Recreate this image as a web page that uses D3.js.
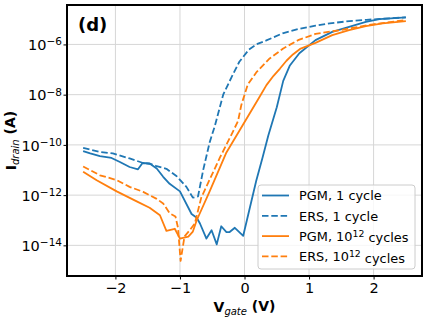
<!DOCTYPE html>
<html>
<head>
<meta charset="utf-8">
<script src="https://cdn.jsdelivr.net/npm/d3@7"></script>
<style>
  body { margin: 0; background: #fff; }
  svg { display: block; font-family: "DejaVu Sans", sans-serif; }
</style>
</head>
<body>
<div id="chart"></div>
<script>
// values: gate voltage (V) and log10 of drain current (A)
const pgm1V = [-2.5, -2.39, -2.24, -2.06, -1.93, -1.78, -1.65, -1.58, -1.47, -1.36, -1.26, -1.16, -1.0, -0.82, -0.74, -0.69, -0.59, -0.51, -0.43, -0.36, -0.28, -0.23, -0.15, -0.02, 0.07, 0.18, 0.28, 0.37, 0.5, 0.6, 0.7, 0.85, 1.1, 1.36, 1.62, 1.88, 2.09, 2.5];
const pgm1Log = [-10.25, -10.34, -10.45, -10.52, -10.68, -10.88, -10.97, -10.72, -10.74, -10.94, -11.27, -11.55, -11.85, -12.75, -12.9, -13.13, -13.73, -13.4, -13.96, -13.24, -13.47, -13.47, -13.3, -13.62, -12.64, -11.45, -10.5, -9.62, -8.5, -7.45, -6.85, -6.35, -5.83, -5.5, -5.3, -5.1, -4.99, -4.92];

const ers1V = [-2.5, -2.24, -2.04, -1.78, -1.57, -1.45, -1.36, -1.21, -1.05, -0.9, -0.8, -0.72, -0.64, -0.54, -0.46, -0.33, -0.2, -0.08, 0.07, 0.2, 0.33, 0.59, 0.83, 1.1, 1.32, 1.63, 1.89, 2.5];
const ers1Log = [-10.12, -10.28, -10.34, -10.54, -10.72, -10.76, -10.85, -10.95, -11.25, -11.67, -12.1, -12.05, -11.0, -9.9, -9.25, -8.0, -7.3, -6.69, -6.2, -5.98, -5.85, -5.56, -5.39, -5.25, -5.16, -5.07, -5.02, -4.92];

const pgm12V = [-2.5, -2.29, -1.98, -1.67, -1.47, -1.31, -1.21, -1.08, -1.0, -0.87, -0.8, -0.74, -0.54, -0.28, -0.07, 0.08, 0.23, 0.34, 0.45, 0.55, 0.65, 0.75, 0.86, 1.1, 1.36, 1.62, 1.88, 2.14, 2.5];
const pgm12Log = [-11.07, -11.41, -11.85, -12.25, -12.5, -12.8, -13.42, -13.34, -13.73, -13.65, -13.45, -13.0, -11.85, -10.3, -9.4, -8.75, -8.1, -7.62, -7.25, -6.96, -6.65, -6.4, -6.18, -5.94, -5.63, -5.43, -5.27, -5.16, -5.07];

const ers12V = [-2.5, -2.24, -1.98, -1.78, -1.57, -1.36, -1.26, -1.16, -1.07, -1.03, -0.99, -0.93, -0.85, -0.77, -0.67, -0.38, -0.2, -0.1, -0.05, 0.05, 0.19, 0.39, 0.6, 0.83, 1.1, 1.48, 1.99, 2.5];
const ers12Log = [-10.86, -11.21, -11.4, -11.67, -11.87, -12.15, -12.33, -12.72, -12.85, -13.3, -14.62, -13.65, -13.4, -13.13, -12.1, -10.5, -9.58, -9.05, -8.42, -7.6, -7.09, -6.56, -6.16, -5.83, -5.58, -5.43, -5.2, -5.03];

const xTicks = [-2, -1, 0, 1, 2];
const yTickExps = [-6, -8, -10, -12, -14];

const width = 432;
const height = 322;
const margin = {top: 5, right: 10, bottom: 46, left: 67};

const series = [
  {name: "PGM, 1 cycle", sup: null, v: pgm1V, log: pgm1Log, color: "#1f77b4", dash: null},
  {name: "ERS, 1 cycle", sup: null, v: ers1V, log: ers1Log, color: "#1f77b4", dash: "6.5,2.8"},
  {name: "PGM, 10", sup: "12", rest: " cycles", v: pgm12V, log: pgm12Log, color: "#ff7f0e", dash: null},
  {name: "ERS, 10", sup: "12", rest: " cycles", v: ers12V, log: ers12Log, color: "#ff7f0e", dash: "6.5,2.8"}
];

const svg = d3.select("#chart").append("svg")
    .attr("width", width)
    .attr("height", height);

const x = d3.scaleLinear()
    .domain([-2.75, 2.75])
    .range([margin.left, width - margin.right]);

const y = d3.scaleLog()
    .domain([Math.pow(10, -4.43), Math.pow(10, -15.22)])
    .range([margin.top, height - margin.bottom]);

// grid
const grid = svg.append("g");
grid.selectAll(".gx")
  .data(xTicks)
  .join("line")
    .attr("x1", d => x(d)).attr("x2", d => x(d))
    .attr("y1", margin.top).attr("y2", height - margin.bottom)
    .style("stroke", "#d6d6d6")
    .style("stroke-width", 1);
grid.selectAll(".gy")
  .data(yTickExps)
  .join("line")
    .attr("x1", margin.left).attr("x2", width - margin.right)
    .attr("y1", d => y(Math.pow(10, d))).attr("y2", d => y(Math.pow(10, d)))
    .style("stroke", "#d6d6d6")
    .style("stroke-width", 1);

// curves
const line = d3.line()
    .x(d => x(d[0]))
    .y(d => y(Math.pow(10, d[1])));

svg.append("g")
  .selectAll("path")
  .data(series)
  .join("path")
    .attr("d", s => line(s.v.map((v, i) => [v, s.log[i]])))
    .style("fill", "none")
    .style("stroke", s => s.color)
    .style("stroke-width", 1.8)
    .style("stroke-dasharray", s => s.dash)
    .style("stroke-linejoin", "round");

// axes
const xAxis = svg.append("g")
    .attr("transform", `translate(0,${height - margin.bottom})`)
    .call(d3.axisBottom(x)
      .tickValues(xTicks)
      .tickSize(3.5)
      .tickPadding(3)
      .tickFormat(d => d < 0 ? "\u2212" + Math.abs(d) : d));
xAxis.select(".domain").remove();
xAxis.selectAll("text")
    .style("font-family", "DejaVu Sans")
    .style("font-size", "14.5px")
    .style("fill", "#000");

const yAxis = svg.append("g")
    .attr("transform", `translate(${margin.left},0)`)
    .call(d3.axisLeft(y)
      .tickValues(yTickExps.map(e => Math.pow(10, e)))
      .tickSize(3.5)
      .tickFormat(""));
yAxis.select(".domain").remove();

const yLabels = yAxis.selectAll(".tick")
  .append("text")
    .attr("x", -5)
    .attr("dy", "0.36em")
    .attr("text-anchor", "end")
    .style("font-family", "DejaVu Sans")
    .style("font-size", "14.5px")
    .style("fill", "#000");
yLabels.append("tspan").text("10");
yLabels.append("tspan")
    .attr("dy", "-0.45em")
    .style("font-size", "10.5px")
    .text(d => "\u2212" + Math.abs(Math.round(Math.log10(d))));

// frame
svg.append("rect")
    .attr("x", margin.left)
    .attr("y", margin.top)
    .attr("width", width - margin.left - margin.right)
    .attr("height", height - margin.top - margin.bottom)
    .style("fill", "none")
    .style("stroke", "#000")
    .style("stroke-width", 2);

// panel tag
svg.append("text")
    .attr("x", 78)
    .attr("y", 30.5)
    .style("font-size", "18px")
    .style("font-weight", "bold")
    .text("(d)");

// axis titles
const xt = svg.append("text")
    .attr("x", (margin.left + width - margin.right) / 2)
    .attr("y", 312)
    .attr("text-anchor", "middle")
    .style("font-size", "14px")
    .style("font-weight", "bold");
xt.append("tspan").text("V");
xt.append("tspan").attr("dy", "0.25em").style("font-size", "10px")
    .style("font-weight", "normal").style("font-style", "italic").text("gate");
xt.append("tspan").attr("dy", "-0.25em").text(" (V)");

const yt = svg.append("text")
    .attr("transform", `translate(16,${(margin.top + height - margin.bottom) / 2}) rotate(-90)`)
    .attr("text-anchor", "middle")
    .style("font-size", "14px")
    .style("font-weight", "bold");
yt.append("tspan").text("I");
yt.append("tspan").attr("dy", "0.25em").style("font-size", "10px")
    .style("font-weight", "normal").style("font-style", "italic").text("drain");
yt.append("tspan").attr("dy", "-0.25em").text(" (A)");

// legend
const legend = svg.append("g");
legend.append("rect")
    .attr("x", 258).attr("y", 185)
    .attr("width", 157).attr("height", 84)
    .attr("rx", 3)
    .style("fill", "#fff")
    .style("fill-opacity", 0.8)
    .style("stroke", "#cccccc")
    .style("stroke-width", 1);

const items = legend.selectAll(".item")
  .data(series)
  .join("g")
    .attr("transform", (d, i) => `translate(0,${195.5 + i * 20.3})`);
items.append("line")
    .attr("x1", 262).attr("x2", 289)
    .style("stroke", d => d.color)
    .style("stroke-width", 1.8)
    .style("stroke-dasharray", d => d.dash);
const itemText = items.append("text")
    .attr("x", 299)
    .attr("y", 4.7)
    .style("font-size", "12.9px")
    .style("fill", "#000");
itemText.append("tspan").text(d => d.name);
itemText.filter(d => d.sup).append("tspan")
    .attr("dy", "-0.45em").style("font-size", "9.3px").text(d => d.sup);
itemText.filter(d => d.sup).append("tspan")
    .attr("dy", "0.45em").text(d => d.rest);
</script>
</body>
</html>
